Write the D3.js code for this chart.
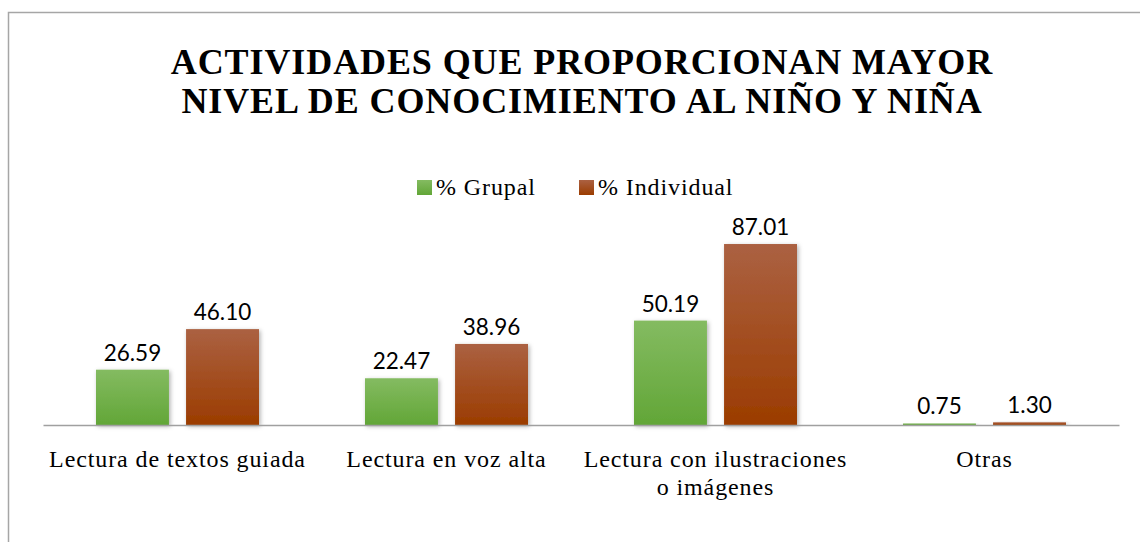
<!DOCTYPE html>
<html>
<head>
<meta charset="utf-8">
<script src="https://cdn.jsdelivr.net/npm/d3@7"></script>
<style>
  body { margin: 0; background: #fff; }
  .serif { font-family: "Liberation Serif", "Times New Roman", Times, "DejaVu Serif", serif; }
</style>
</head>
<body>
<div id="chart"></div>
<script>
// chart data
var categories = [["Lectura de textos guiada"], ["Lectura en voz alta"], ["Lectura con ilustraciones", "o imágenes"], ["Otras"]];
var grupal = [26.59, 22.47, 50.19, 0.75];
var individual = [46.10, 38.96, 87.01, 1.30];
var seriesNames = ["% Grupal", "% Individual"];
var titleLines = ["ACTIVIDADES QUE PROPORCIONAN MAYOR", "NIVEL DE CONOCIMIENTO AL NIÑO Y NIÑA"];

var width = 1140, height = 542;
var margin = {left: 43, right: 21, base: 425};

var svg = d3.select("#chart").append("svg")
    .attr("width", width)
    .attr("height", height);

var defs = svg.append("defs");
var gGreen = defs.append("linearGradient").attr("id", "gGreen").attr("x1", 0).attr("y1", 0).attr("x2", 0).attr("y2", 1);
gGreen.append("stop").attr("offset", "0%").attr("stop-color", "#84bb61");
gGreen.append("stop").attr("offset", "100%").attr("stop-color", "#62a637");
var gBrown = defs.append("linearGradient").attr("id", "gBrown").attr("x1", 0).attr("y1", 0).attr("x2", 0).attr("y2", 1);
gBrown.append("stop").attr("offset", "0%").attr("stop-color", "#ab6142");
gBrown.append("stop").attr("offset", "100%").attr("stop-color", "#9b3c00");
var shadow = defs.append("filter").attr("id", "shadow").attr("x", "-20%").attr("y", "-20%").attr("width", "140%").attr("height", "140%");
shadow.append("feDropShadow").attr("dx", 1.5).attr("dy", 1.5).attr("stdDeviation", 2).attr("flood-color", "#000").attr("flood-opacity", 0.3);

// outer frame
svg.append("rect")
    .attr("x", 8.5).attr("y", 12.5)
    .attr("width", 1140).attr("height", 600)
    .attr("fill", "none").attr("stroke", "#a6a6a6").attr("stroke-width", 1.5);

// title
svg.append("g").selectAll("text")
  .data(titleLines)
  .enter().append("text")
    .attr("class", "serif")
    .attr("x", 582)
    .attr("y", function(d, i) { return 74 + i * 39; })
    .attr("text-anchor", "middle")
    .style("font-weight", "bold")
    .style("font-size", "36px")
    .style("letter-spacing", "0.9px")
    .text(function(d) { return d; });

// scales
var x0 = d3.scaleBand()
    .domain(d3.range(categories.length))
    .range([margin.left, width - margin.right]);
var x1 = d3.scaleBand()
    .domain([0, 1])
    .range([53, x0.bandwidth() - 53])
    .paddingInner(0.19);
var y = d3.scaleLinear()
    .domain([0, 100])
    .range([margin.base, margin.base - 208]);

var fills = ["url(#gGreen)", "url(#gBrown)"];
var data = categories.map(function(c, i) { return [grupal[i], individual[i]]; });

var groups = svg.append("g").selectAll("g")
  .data(data)
  .enter().append("g")
    .attr("transform", function(d, i) { return "translate(" + x0(i) + ",0)"; });

groups.selectAll("rect")
  .data(function(d) { return d; })
  .enter().append("rect")
    .attr("x", function(d, j) { return x1(j); })
    .attr("y", function(d) { return y(d); })
    .attr("width", x1.bandwidth())
    .attr("height", function(d) { return y(0) - y(d); })
    .attr("fill", function(d, j) { return fills[j]; })
    .attr("filter", "url(#shadow)");

groups.selectAll("text.val")
  .data(function(d) { return d; })
  .enter().append("text")
    .attr("class", "val")
    .attr("x", function(d, j) { return x1(j) + x1.bandwidth() / 2; })
    .attr("y", function(d) { return y(d) - 9; })
    .attr("text-anchor", "middle")
    .style("font-family", "Lato, 'Open Sans', sans-serif")
    .style("font-size", "22.5px")
    .attr("fill", "#000")
    .text(function(d) { return d.toFixed(2); });

// baseline axis
var xAxis = svg.append("g")
    .attr("transform", "translate(0," + margin.base + ")")
    .call(d3.axisBottom(x0).tickSize(0).tickFormat(""));
xAxis.select(".domain").attr("stroke", "#a0a0a0").attr("stroke-width", 1.5);

// category labels
var catLabels = svg.append("g").selectAll("text")
  .data(categories)
  .enter().append("text")
    .attr("class", "serif")
    .attr("x", function(d, i) { return x0(i) + x0.bandwidth() / 2; })
    .attr("y", 467)
    .attr("text-anchor", "middle")
    .style("font-size", "24px")
    .style("letter-spacing", "0.9px");
catLabels.selectAll("tspan")
  .data(function(d) { return d; })
  .enter().append("tspan")
    .attr("x", function() { return d3.select(this.parentNode).attr("x"); })
    .attr("dy", function(d, i) { return i === 0 ? 0 : 28; })
    .text(function(d) { return d; });

// legend
var legendX = [417, 579];
var legend = svg.append("g").selectAll("g")
  .data(seriesNames)
  .enter().append("g")
    .attr("transform", function(d, i) { return "translate(" + legendX[i] + ",180)"; });
legend.append("rect")
    .attr("width", 15).attr("height", 15)
    .attr("fill", function(d, i) { return fills[i]; });
legend.append("text")
    .attr("class", "serif")
    .attr("x", 19).attr("y", 15)
    .style("font-size", "24px")
    .style("letter-spacing", "0.9px")
    .text(function(d) { return d; });
</script>
</body>
</html>
